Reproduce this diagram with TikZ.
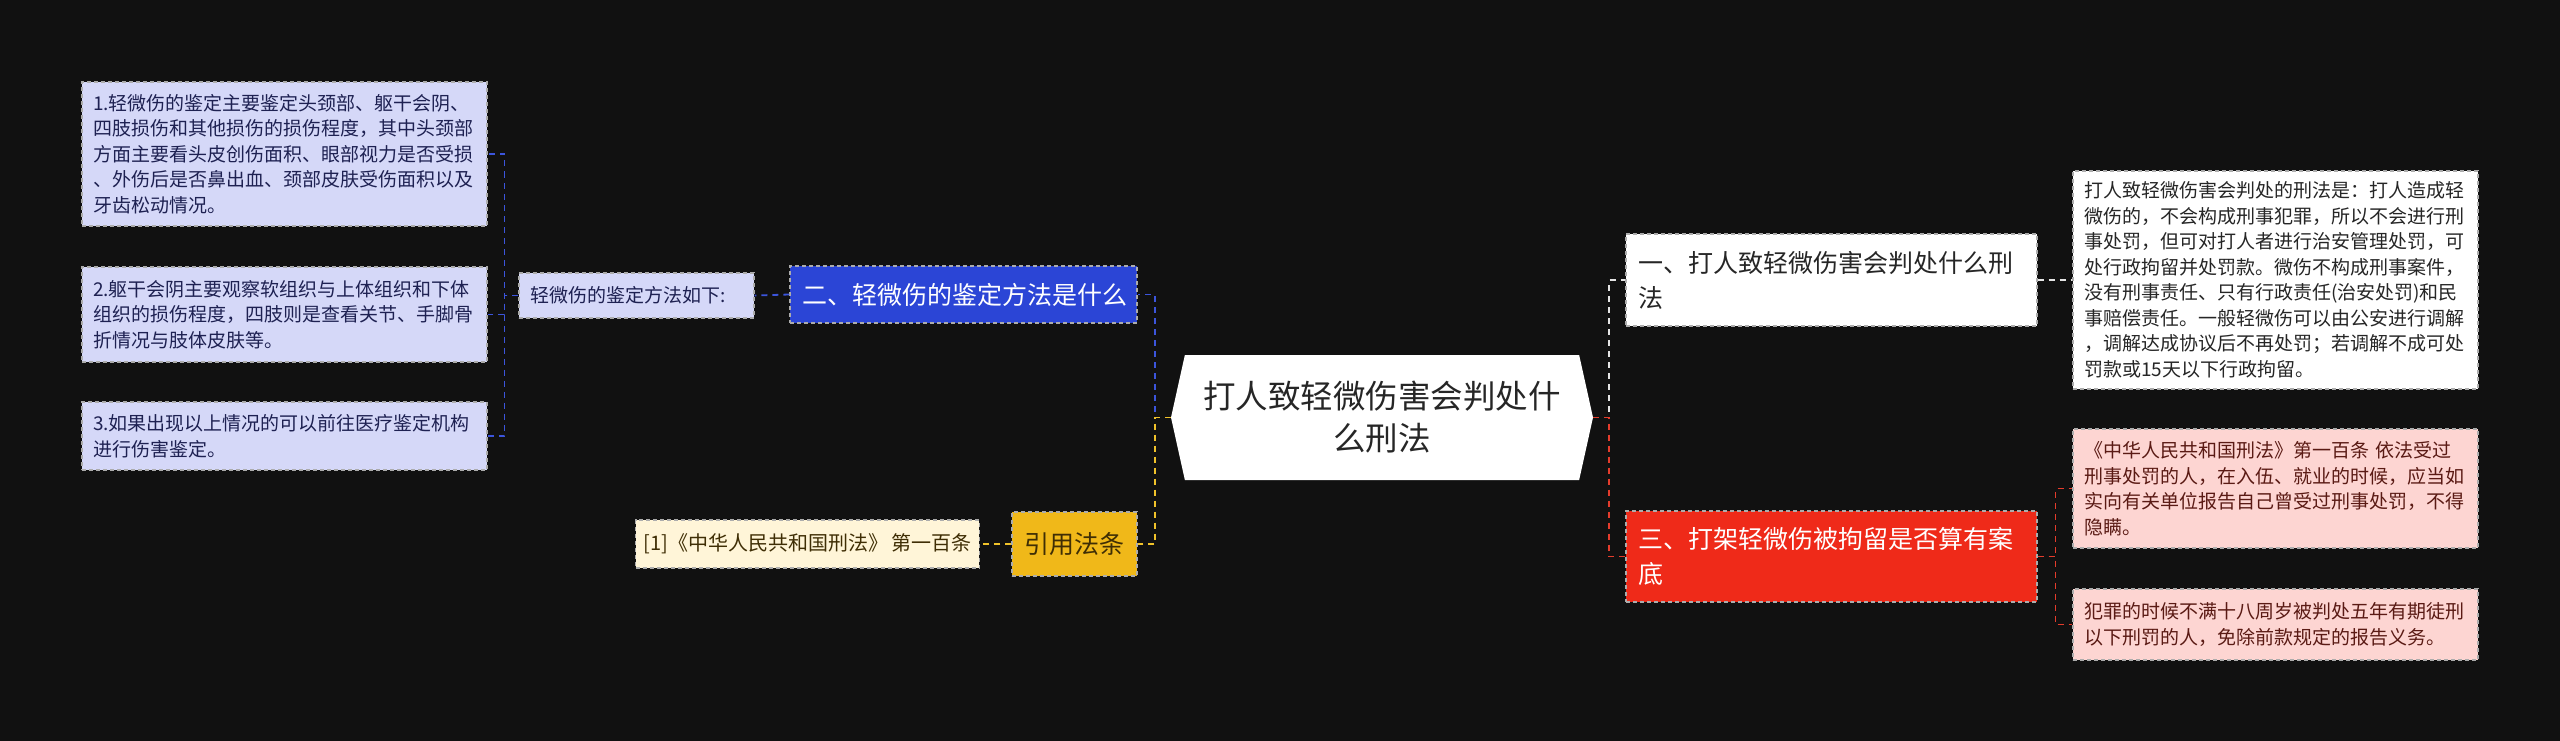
\documentclass[tikz,border=0pt]{standalone}
\usepackage{fontspec}
\setmainfont{Noto Sans CJK SC}
\usetikzlibrary{shapes.symbols}

\definecolor{bgdark}{HTML}{111111}
\definecolor{bluemain}{HTML}{2B45D6}
\definecolor{blueleaf}{HTML}{D5D8F8}
\definecolor{bluetext}{HTML}{1E2152}
\definecolor{bluelinkc}{HTML}{3C55DC}
\definecolor{yelmain}{HTML}{F0B819}
\definecolor{yelleaf}{HTML}{FFF5D8}
\definecolor{yeltext}{HTML}{3F2E05}
\definecolor{yellinkc}{HTML}{F0C22A}
\definecolor{redmain}{HTML}{EF2A19}
\definecolor{redleaf}{HTML}{FDD5D2}
\definecolor{redtext}{HTML}{5A1A14}
\definecolor{redlinkc}{HTML}{E53C2C}
\definecolor{greytext}{HTML}{262626}

\begin{document}
\begin{tikzpicture}[x=1pt, y=-1pt,
  box/.style={draw=gray!65, dash pattern=on 4pt off 3pt, line width=1.1pt,
    inner xsep=11pt, inner ysep=0pt, align=left},
  leaf/.style={box, font=\fontsize{19}{25.5}\selectfont},
  topic/.style={box, inner xsep=12pt, font=\fontsize{25}{35}\selectfont},
  link/.style={dash pattern=on 6pt off 5pt, line width=1.8pt},
  bluelink/.style={link, bluelinkc},
  yellink/.style={link, yellinkc},
  whitelink/.style={link, gray!20},
  redlink/.style={link, redlinkc}]

  % background and page size
  \fill[bgdark] (0,0) rectangle (2560,741);

  % centre
  \node[shape=signal, signal to=west and east, signal pointer angle=155,
    fill=white, minimum width=422pt, minimum height=125pt, align=center,
    text=greytext, font=\fontsize{32.5}{42}\selectfont] (root) at (1382,417.5)
    {打人致轻微伤害会判处什\\么刑法};

  % left: identification branch
  \node[topic, fill=bluemain, text=white, text width=323pt, minimum height=57pt]
    (method) at (963.5,294.5) {二、轻微伤的鉴定方法是什么};
  \node[leaf, fill=blueleaf, text=bluetext, text width=213pt, minimum height=45pt]
    (howto) at (636.5,295.5) {轻微伤的鉴定方法如下:};
  \node[leaf, fill=blueleaf, text=bluetext, text width=383pt, minimum height=144pt]
    (step1) at (284.5,154) {1.轻微伤的鉴定主要鉴定头颈部、躯干会阴、\\四肢损伤和其他损伤的损伤程度，其中头颈部\\方面主要看头皮创伤面积、眼部视力是否受损\\、外伤后是否鼻出血、颈部皮肤受伤面积以及\\牙齿松动情况。};
  \node[leaf, fill=blueleaf, text=bluetext, text width=383pt, minimum height=95pt]
    (step2) at (284.5,314.5) {2.躯干会阴主要观察软组织与上体组织和下体\\组织的损伤程度，四肢则是查看关节、手脚骨\\折情况与肢体皮肤等。};
  \node[leaf, fill=blueleaf, text=bluetext, text width=383pt, minimum height=68pt]
    (step3) at (284.5,436) {3.如果出现以上情况的可以前往医疗鉴定机构\\进行伤害鉴定。};

  % left: cited law
  \node[topic, fill=yelmain, text=yeltext, text width=101pt, minimum height=64pt]
    (cite) at (1074.5,544) {引用法条};
  \node[leaf, fill=yelleaf, text=yeltext, align=center, minimum width=339pt,
    minimum height=48pt, inner xsep=8pt, font=\fontsize{20}{25.5}\selectfont]
    (law) at (807.5,544) {\mbox{[1]《中华人民共和国刑法》\hspace{3pt}第一百条}};

  % right: punishment branch
  \node[topic, fill=white, text=greytext, text width=387pt, minimum height=92pt]
    (penalty) at (1831.5,280) {一、打人致轻微伤害会判处什么刑\\法};
  \node[leaf, fill=white, text=greytext, text width=383pt, minimum height=218pt]
    (answer) at (2275.5,280) {打人致轻微伤害会判处的刑法是：打人造成轻\\微伤的，不会构成刑事犯罪，所以不会进行刑\\事处罚，但可对打人者进行治安管理处罚，可\\处行政拘留并处罚款。微伤不构成刑事案件，\\没有刑事责任、只有行政责任(治安处罚)和民\\事赔偿责任。一般轻微伤可以由公安进行调解\\，调解达成协议后不再处罚；若调解不成可处\\罚款或15天以下行政拘留。};

  % right: record branch
  \node[topic, fill=redmain, text=white, text width=387pt, minimum height=91pt]
    (record) at (1831.5,556.5) {三、打架轻微伤被拘留是否算有案\\底};
  \node[leaf, fill=redleaf, text=redtext, text width=383pt, minimum height=119pt]
    (art1) at (2275.5,488.5) {《中华人民共和国刑法》第一百条 依法受过\\刑事处罚的人，在入伍、就业的时候，应当如\\实向有关单位报告自己曾受过刑事处罚，不得\\隐瞒。};
  \node[leaf, fill=redleaf, text=redtext, text width=383pt, minimum height=71pt]
    (art2) at (2275.5,624.5) {犯罪的时候不满十八周岁被判处五年有期徒刑\\以下刑罚的人，免除前款规定的报告义务。};

  % connectors
  \draw[bluelink] (root.west) -- ++(-16,0) |- (method.east);
  \draw[yellink] (root.west) -- ++(-16,0) |- (cite.east);
  \draw[bluelink] (method.west) -- (howto.east);
  \draw[bluelink] (howto.west) -- ++(-14,0) |- (step1.east);
  \draw[bluelink] (howto.west) -- ++(-14,0) |- (step2.east);
  \draw[bluelink] (howto.west) -- ++(-14,0) |- (step3.east);
  \draw[yellink] (cite.west) -- (law.east);

  \draw[whitelink] (root.east) -- ++(16,0) |- (penalty.west);
  \draw[redlink] (root.east) -- ++(16,0) |- (record.west);
  \draw[whitelink] (penalty.east) -- (answer.west);
  \draw[redlink] (record.east) -- ++(18,0) |- (art1.west);
  \draw[redlink] (record.east) -- ++(18,0) |- (art2.west);
\end{tikzpicture}
\end{document}
